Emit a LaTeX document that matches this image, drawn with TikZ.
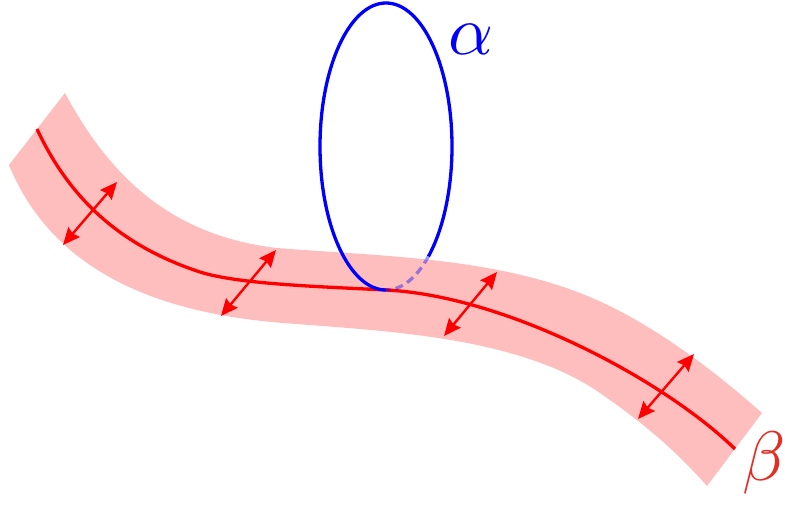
\documentclass[tikz,border=0pt]{standalone}
\usepackage{graphicx}
\usetikzlibrary{arrows.meta}
\definecolor{bandpink}{RGB}{255,190,190}
\definecolor{betared}{RGB}{228,45,35}
\begin{document}
\begin{tikzpicture}[x=1pt,y=-1pt,
  band/.style={fill=bandpink,draw=none},
  core/.style={line width=3.3pt,draw=red},
  normal/.style={line width=2.4pt,draw=red,{Stealth[length=17pt,width=15pt,inset=2pt]}-{Stealth[length=17pt,width=15pt,inset=2pt]}},
  loopline/.style={line width=3.3pt,draw=blue},
  hidden/.style={line width=3.3pt,draw=blue,draw opacity=0.4,dash pattern=on 8pt off 5pt},
  lab/.style={inner sep=0pt}]
\useasboundingbox (0,0) rectangle (785,508);
% band
\path[band] (65,93) .. controls (112,181) and (175,236) .. (277,248)
  .. controls (377,256) and (487,257) .. (580,293)
  .. controls (645,318) and (710,367) .. (762,413)
  -- (707,486) .. controls (674,448.5) and (641,421.5) .. (600,393)
  .. controls (518,336) and (383,331) .. (283,323)
  .. controls (183,315) and (58,285) .. (9,165) -- cycle;
% core line
\coordinate (s) at (37,129);
\coordinate (m) at (386,290);
\coordinate (e) at (735,449);
\path[core] (s) .. controls (71,202) and (124,247) .. (200,272)
  .. controls (238,284) and (316,286.5) .. (m)
  .. controls (506,296) and (663,379) .. (e);
% normal arrows
\coordinate (a1) at (63,245); \coordinate (b1) at (117,182);
\coordinate (a2) at (221,316); \coordinate (b2) at (276,250);
\coordinate (a3) at (444,336); \coordinate (b3) at (497,272);
\coordinate (a4) at (638,419); \coordinate (b4) at (694,354);
\path[normal] (a1) -- (b1);
\path[normal] (a2) -- (b2);
\path[normal] (a3) -- (b3);
\path[normal] (a4) -- (b4);
% loop alpha
\coordinate (c) at (386,146.5);
\path[loopline] (m) arc[start angle=90,end angle=410,x radius=66,y radius=143.5];
\path[hidden] ([shift={(50:66 and 143.5)}]c) arc[start angle=50,end angle=90,x radius=66,y radius=143.5];
\node[lab,text=blue] (alpha) at (471,39) {\scalebox{7}{$\alpha$}};
\node[lab,text=betared] (beta) at (764,463) {\scalebox{7}{$\beta$}};
\end{tikzpicture}
\end{document}
